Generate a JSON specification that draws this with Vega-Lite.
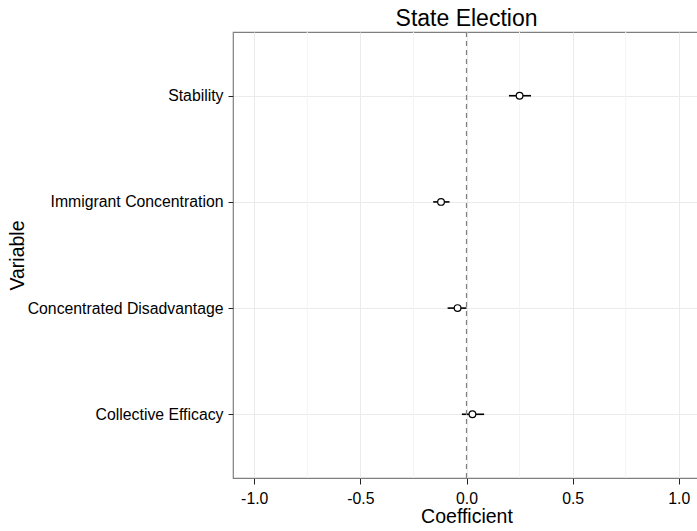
{
  "$schema": "https://vega.github.io/schema/vega-lite/v6.json",
  "autosize": {"type": "none"},
  "width": 467,
  "height": 446,
  "padding": {"left": 233, "top": 32, "right": 0, "bottom": 53},
  "background": "white",
  "title": {"text": "State Election", "font": "Liberation Sans", "fontSize": 23, "fontWeight": "normal", "color": "black", "anchor": "middle", "offset": 5, "baseline": "bottom", "dy": 28},
  "config": {
    "view": {"stroke": "#7f7f7f", "strokeWidth": 1.2},
    "axis": {"labelFont": "Liberation Sans", "titleFont": "Liberation Sans", "labelFontSize": 15.8, "titleFontSize": 19.5, "titleFontWeight": "normal", "labelColor": "black", "titleColor": "black", "domain": false, "tickColor": "#222222", "tickSize": 5, "gridColor": "#ebebeb", "gridWidth": 1, "labelLimit": 0}
  },
  "datasets": {
    "coef": [
      {"variable": "Stability", "est": 0.25, "lo": 0.2, "hi": 0.304},
      {"variable": "Immigrant Concentration", "est": -0.12, "lo": -0.157, "hi": -0.08},
      {"variable": "Concentrated Disadvantage", "est": -0.042, "lo": -0.089, "hi": 0.0},
      {"variable": "Collective Efficacy", "est": 0.028, "lo": -0.022, "hi": 0.083}
    ],
    "minor": [{"v": -0.75}, {"v": -0.25}, {"v": 0.25}, {"v": 0.75}],
    "zero": [{"v": 0}]
  },
  "layer": [
    {
      "data": {"name": "minor"},
      "mark": {"type": "rule", "color": "#f4f4f4", "strokeWidth": 1},
      "encoding": {"x": {"field": "v", "type": "quantitative", "scale": {"domain": [-1.1, 1.1], "nice": false, "zero": false}}}
    },
    {
      "data": {"name": "coef"},
      "mark": {"type": "rule", "color": "black", "strokeWidth": 1.6},
      "encoding": {
        "y": {"field": "variable", "type": "nominal", "sort": ["Stability", "Immigrant Concentration", "Concentrated Disadvantage", "Collective Efficacy"], "scale": {"type": "point", "padding": 0.6}, "axis": {"title": "Variable", "titlePadding": 6, "labelPadding": 5, "tickSize": 5, "grid": true}},
        "x": {"field": "lo", "type": "quantitative", "scale": {"domain": [-1.1, 1.1], "nice": false, "zero": false}, "axis": {"title": "Coefficient", "values": [-1, -0.5, 0, 0.5, 1], "labelExpr": "replace(format(datum.value, '.1f'), '\u2212', '-')", "tickSize": 6, "labelPadding": 7, "titlePadding": 2, "grid": true}},
        "x2": {"field": "hi"}
      }
    },
    {
      "data": {"name": "zero"},
      "mark": {"type": "rule", "color": "#808080", "strokeWidth": 1.2, "strokeDash": [5, 4]},
      "encoding": {"x": {"field": "v", "type": "quantitative"}}
    },
    {
      "data": {"name": "coef"},
      "mark": {"type": "point", "shape": "circle", "filled": true, "fill": "white", "stroke": "black", "strokeWidth": 1.2, "size": 45, "opacity": 1},
      "encoding": {
        "y": {"field": "variable", "type": "nominal", "sort": ["Stability", "Immigrant Concentration", "Concentrated Disadvantage", "Collective Efficacy"]},
        "x": {"field": "est", "type": "quantitative"}
      }
    }
  ]
}
